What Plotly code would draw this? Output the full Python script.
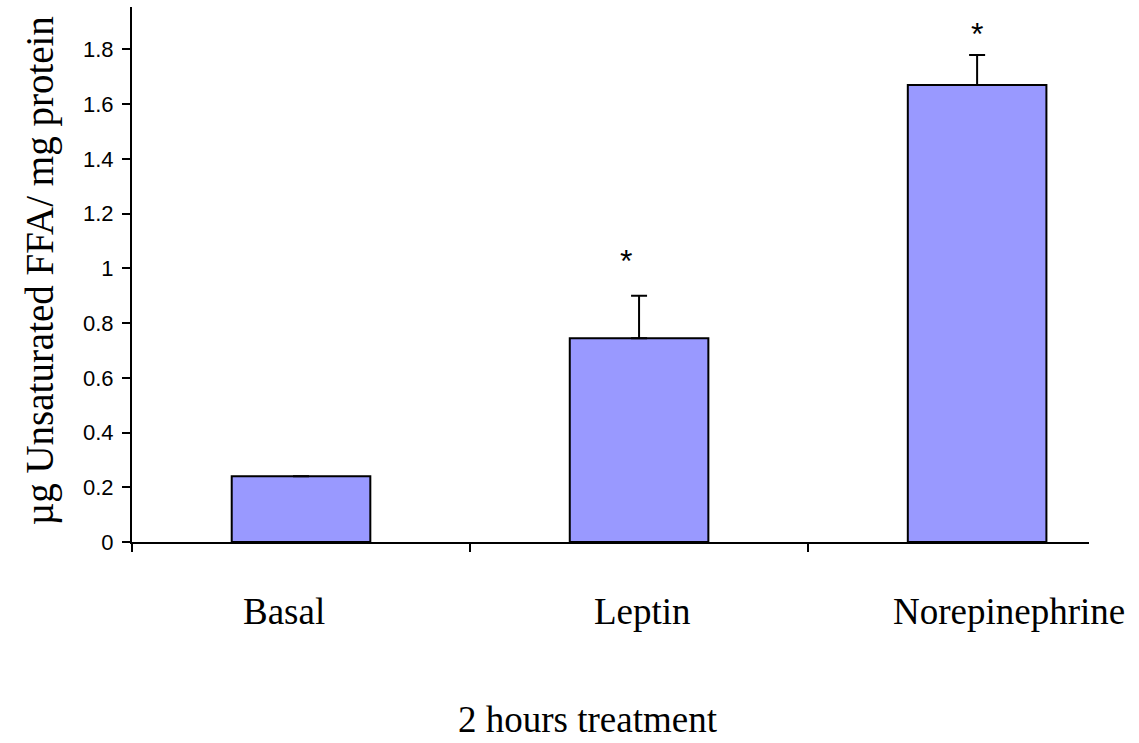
import plotly.graph_objects as go

categories = ["Basal", "Leptin", "Norepinephrine"]
means = [0.24, 0.745, 1.67]
errors_up = [0.0, 0.155, 0.11]
sig_labels = ["", "*", "*"]
sig_y = [0.0, 1.027, 1.858]
y_ticks = [0, 0.2, 0.4, 0.6, 0.8, 1, 1.2, 1.4, 1.6, 1.8]
y_tick_text = ["0", "0.2", "0.4", "0.6", "0.8", "1", "1.2", "1.4", "1.6", "1.8"]
x_title = "2 hours treatment"
y_title = "µg Unsaturated FFA/ mg protein"

xpos = list(range(len(categories)))
label_shift = [-17, 3, 32]
sig_shift = [0, -13, 0]
SERIF = "Liberation Serif, Times New Roman, serif"
SANS = "Liberation Sans, Arial, sans-serif"

fig = go.Figure()
fig.add_trace(go.Bar(
    x=xpos, y=means, width=0.41,
    marker=dict(color="#9999FF", line=dict(color="black", width=2)),
    error_y=dict(type="data", symmetric=False, array=errors_up,
                 arrayminus=[0] * len(means), color="black", thickness=2, width=8),
    showlegend=False,
))

annotations = []
for i, c in enumerate(categories):
    annotations.append(dict(x=xpos[i], y=-0.1308, xref="x", yref="paper", text=c,
                            showarrow=False, xshift=label_shift[i], yanchor="middle",
                            font=dict(family=SERIF, size=37, color="black")))
    if sig_labels[i]:
        annotations.append(dict(x=xpos[i], y=sig_y[i], xref="x", yref="y", text=sig_labels[i],
                                showarrow=False, xshift=sig_shift[i], yanchor="middle",
                                font=dict(family=SANS, size=32, color="black")))
annotations.append(dict(x=0.4765, y=-0.3327, xref="paper", yref="paper", text=x_title,
                        showarrow=False, xanchor="center", yanchor="middle",
                        font=dict(family=SERIF, size=37, color="black")))
annotations.append(dict(x=-0.0961, y=0.506, xref="paper", yref="paper", text=y_title,
                        showarrow=False, textangle=-90, xanchor="center", yanchor="middle",
                        font=dict(family=SERIF, size=39, color="black")))

fig.update_layout(
    width=1139, height=743,
    margin=dict(l=132, r=50, t=7, b=201),
    paper_bgcolor="white", plot_bgcolor="white",
    annotations=annotations,
    xaxis=dict(range=[-0.5, 2.331], showgrid=False, zeroline=False,
               showline=True, linecolor="black", linewidth=2,
               tickmode="array", tickvals=[-0.5, 0.5, 1.5], ticktext=["", "", ""],
               ticks="outside", ticklen=8, tickwidth=2, tickcolor="black"),
    yaxis=dict(range=[0, 1.955], showgrid=False, zeroline=False,
               showline=True, linecolor="black", linewidth=2,
               tickmode="array", tickvals=y_ticks, ticktext=y_tick_text,
               ticks="outside", ticklen=8, tickwidth=2, tickcolor="black",
               ticklabelstandoff=4,
               tickfont=dict(family=SANS, size=22, color="black")),
)

fig.write_html("out.html")
